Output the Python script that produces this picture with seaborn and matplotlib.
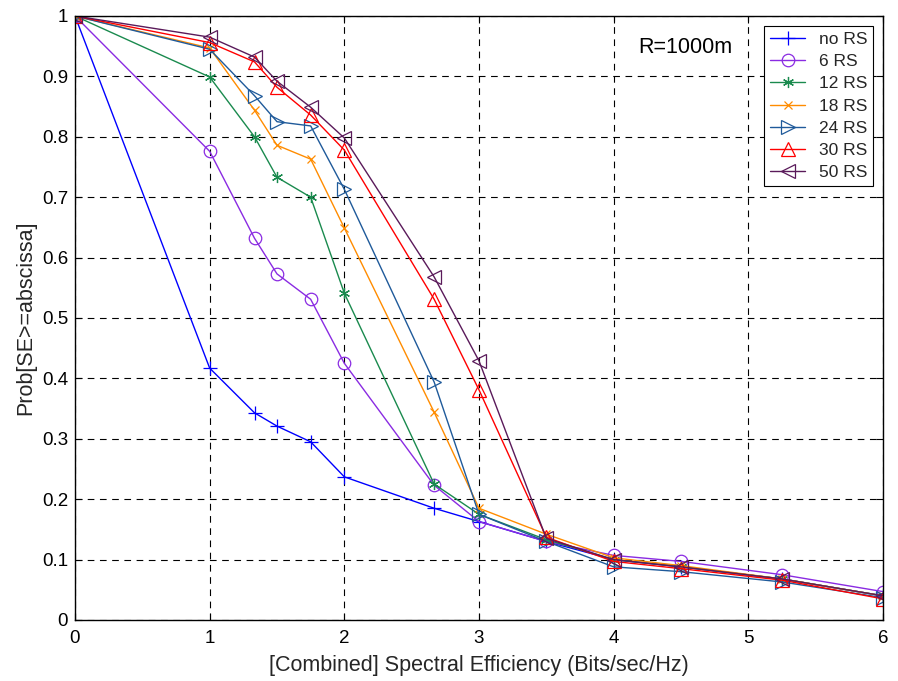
import matplotlib
matplotlib.use("Agg")
import matplotlib.pyplot as plt
import seaborn as sns
import pandas as pd
import numpy as np

# ---- data ----
x_vals = [0, 1, 1.333, 1.5, 1.75, 2, 2.667, 3, 3.5, 4, 4.5, 5.25, 6]
series_names = ["no RS", "6 RS", "12 RS", "18 RS", "24 RS", "30 RS", "50 RS"]
no_rs  = [1.0, 0.417, 0.343, 0.321, 0.295, 0.237, 0.185, 0.163, 0.130, 0.100, 0.088, 0.068, 0.040]
rs_6   = [1.0, 0.776, 0.632, 0.573, 0.531, 0.425, 0.223, 0.163, 0.130, 0.107, 0.097, 0.075, 0.047]
rs_12  = [1.0, 0.899, 0.800, 0.733, 0.700, 0.541, 0.225, 0.175, 0.133, 0.100, 0.088, 0.068, 0.040]
rs_18  = [1.0, 0.947, 0.844, 0.786, 0.763, 0.649, 0.344, 0.185, 0.142, 0.103, 0.090, 0.068, 0.040]
rs_24  = [1.0, 0.945, 0.868, 0.825, 0.818, 0.713, 0.394, 0.175, 0.130, 0.088, 0.080, 0.063, 0.037]
rs_30  = [1.0, 0.956, 0.924, 0.882, 0.836, 0.778, 0.531, 0.381, 0.137, 0.097, 0.085, 0.066, 0.035]
rs_50  = [1.0, 0.965, 0.932, 0.892, 0.849, 0.798, 0.568, 0.429, 0.135, 0.100, 0.088, 0.068, 0.040]
all_values = [no_rs, rs_6, rs_12, rs_18, rs_24, rs_30, rs_50]

x_ticks = [0, 1, 2, 3, 4, 5, 6]
y_ticks = [0, 0.1, 0.2, 0.3, 0.4, 0.5, 0.6, 0.7, 0.8, 0.9, 1.0]
y_tick_labels = ["0", "0.1", "0.2", "0.3", "0.4", "0.5", "0.6", "0.7", "0.8", "0.9", "1"]

# ---- style ----
colors = ["#0000ff", "#8a2be2", "#1a8a4e", "#ff8c00", "#1f5a9a", "#ff0000", "#5a1a5a"]
markers = ["+", "o", (6, 2, 0), "x", ">", "^", "<"]
msizes = [10, 9, 8, 6, 10.5, 10.5, 10.5]

sns.set_theme(style="ticks")
plt.rcParams["font.family"] = ["Liberation Sans", "DejaVu Sans"]

df = pd.DataFrame({
    "x": np.tile(x_vals, len(series_names)),
    "y": np.concatenate(all_values),
    "series": np.repeat(series_names, len(x_vals)),
})

fig = plt.figure(figsize=(8.98, 6.81), dpi=100)
ax = fig.add_axes([75 / 898, 1 - 620 / 681, (883 - 75) / 898, (620 - 16) / 681])

for name, col, mk, ms in zip(series_names, colors, markers, msizes):
    sub = df[df["series"] == name]
    sns.lineplot(data=sub, x="x", y="y", ax=ax, color=col, marker=mk,
                 markersize=ms, markerfacecolor="none", markeredgecolor=col,
                 markeredgewidth=0.9, linewidth=1.0, label=name,
                 estimator=None, sort=False)

for line in ax.lines:
    line.set_markeredgecolor(line.get_color())
    line.set_markerfacecolor("none")

ax.set_xlim(0, 6)
ax.set_ylim(0, 1)
ax.set_xticks(x_ticks)
ax.set_xticklabels([str(t) for t in x_ticks])
ax.set_yticks(y_ticks)
ax.set_yticklabels(y_tick_labels)
ax.grid(True, color="black", linestyle=(0, (6, 5)), linewidth=0.8)
ax.set_axisbelow(True)
for sp in ax.spines.values():
    sp.set_visible(True)
    sp.set_color("black")
    sp.set_linewidth(1.0)
ax.tick_params(direction="in", length=5, width=0.8, top=True, right=True,
               labelsize=13.5, colors="black")
ax.tick_params(axis="x", pad=7)
ax.tick_params(axis="y", pad=5)
ax.set_xlabel("[Combined] Spectral Efficiency (Bits/sec/Hz)", fontsize=15.5, labelpad=6)
ax.set_ylabel("Prob[SE>=abscissa]", fontsize=15.5, labelpad=4)

ax.text(4.53, 0.948, "R=1000m", fontsize=15.5, ha="center", va="center", color="black",
        bbox=dict(facecolor="white", edgecolor="none", pad=2))

leg = ax.legend(loc="upper right", fontsize=12.5, frameon=True, fancybox=False,
                borderaxespad=0.55, handlelength=2.0, labelspacing=0.41,
                borderpad=0.35, handletextpad=0.8)
leg.get_frame().set_edgecolor("black")
leg.get_frame().set_linewidth(0.8)
leg.get_frame().set_alpha(1)

fig.savefig("out.png", dpi=100)
